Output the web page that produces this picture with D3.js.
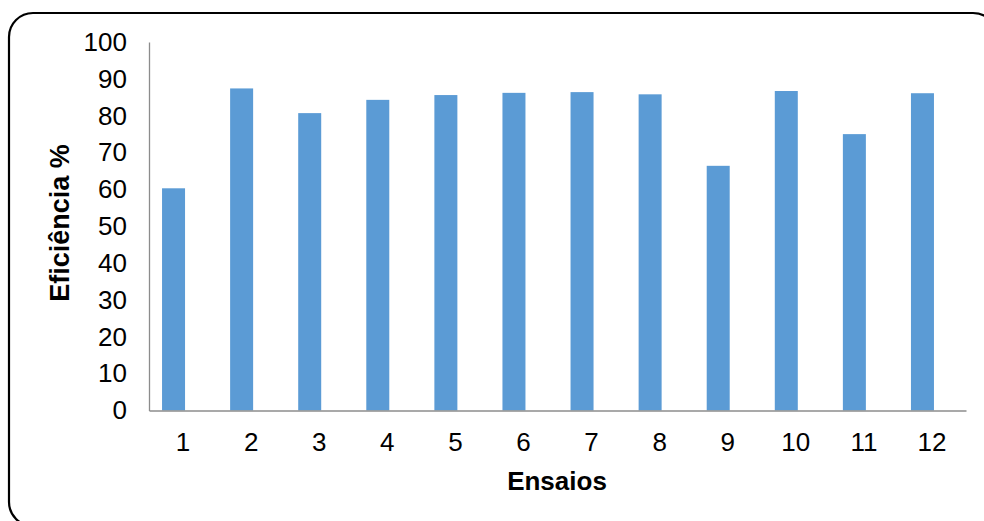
<!DOCTYPE html>
<html><head><meta charset="utf-8">
<script src="https://cdn.jsdelivr.net/npm/d3@7"></script>
<style>html,body{margin:0;padding:0;background:#fff;}svg{display:block;}</style>
</head><body>
<script>
const categories = ["1","2","3","4","5","6","7","8","9","10","11","12"];
const values = [60.3, 87.4, 80.7, 84.3, 85.6, 86.2, 86.4, 85.8, 66.4, 86.7, 75.0, 86.1];
const yTicks = [0,10,20,30,40,50,60,70,80,90,100];
const yLabel = "Eficiência %";
const xLabel = "Ensaios";

const W = 984, H = 521;
const svg = d3.select("body").append("svg").attr("width", W).attr("height", H);

svg.append("rect").attr("x", 9).attr("y", 13).attr("width", 988).attr("height", 513)
  .attr("rx", 24).attr("fill", "none").attr("stroke", "#000").attr("stroke-width", 2.2);

const x = d3.scaleBand().domain(categories).range([149, 966]);
const y = d3.scaleLinear().domain([0, 100]).range([410.5, 42]);
const barW = 23, barShift = -9.5;

svg.append("g").selectAll("rect").data(values).join("rect")
  .attr("x", (d, i) => x(categories[i]) + x.bandwidth() / 2 + barShift - barW / 2)
  .attr("y", d => y(d))
  .attr("width", barW)
  .attr("height", d => y(0) - y(d))
  .attr("fill", "#5b9bd5");

const font = "Liberation Sans, Arial, sans-serif";
const yAxis = svg.append("g").attr("transform", "translate(149,0)")
  .call(d3.axisLeft(y).tickValues(yTicks).tickSize(0).tickPadding(22));
yAxis.attr("font-size", 26).attr("font-family", font);
yAxis.select(".domain").attr("stroke", "#8c8c8c").attr("stroke-width", 1.3);
yAxis.selectAll("text").attr("font-family", font).attr("font-size", 26).attr("fill", "#000");

const xAxis = svg.append("g").attr("transform", "translate(0,410.5)")
  .call(d3.axisBottom(x).tickSize(0).tickPadding(22));
xAxis.attr("font-size", 26).attr("font-family", font);
xAxis.select(".domain").attr("stroke", "#8c8c8c").attr("stroke-width", 1.3);
xAxis.selectAll("text").attr("font-family", font).attr("font-size", 26).attr("fill", "#000");

svg.append("text").attr("transform", "translate(69,223) rotate(-90)")
  .attr("text-anchor", "middle").attr("font-family", font).attr("font-size", 27)
  .attr("font-weight", "bold").text(yLabel);
svg.append("text").attr("x", 557).attr("y", 490)
  .attr("text-anchor", "middle").attr("font-family", font).attr("font-size", 26)
  .attr("font-weight", "bold").text(xLabel);
</script>
</body></html>
